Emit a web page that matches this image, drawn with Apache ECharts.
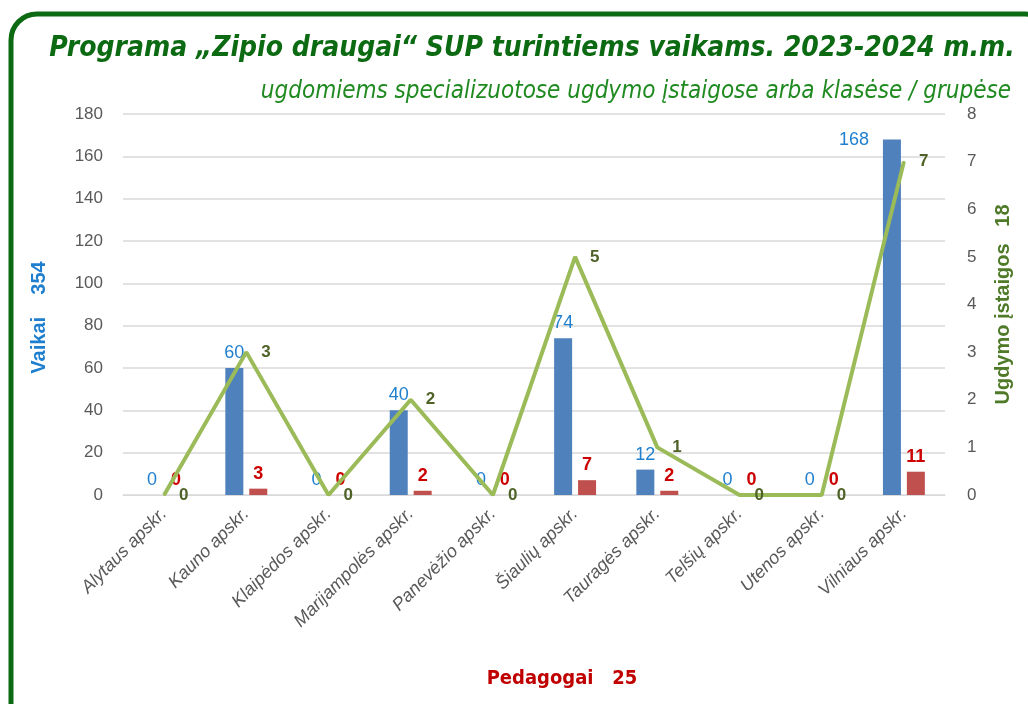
<!DOCTYPE html>
<html>
<head>
<meta charset="utf-8">
<script src="https://cdn.jsdelivr.net/npm/echarts@6/dist/echarts.min.js"></script>
<style>
  html, body { margin: 0; padding: 0; background: #fff; }
  #chart { width: 1028px; height: 704px; }
</style>
</head>
<body>
<div id="chart"></div>
<script>
const chartDom = document.getElementById('chart');
const myChart = echarts.init(chartDom);

// categories and values
const regions = ['Alytaus apskr.', 'Kauno apskr.', 'Klaipėdos apskr.', 'Marijampolės apskr.', 'Panevėžio apskr.',
  'Šiaulių apskr.', 'Tauragės apskr.', 'Telšių apskr.', 'Utenos apskr.', 'Vilniaus apskr.'];
const vaikai = [0, 60, 0, 40, 0, 74, 12, 0, 0, 168];
const pedagogai = [0, 3, 0, 2, 0, 7, 2, 0, 0, 11];
const istaigos = [0, 3, 0, 2, 0, 5, 1, 0, 0, 7];
const totals = { vaikai: 354, pedagogai: 25, istaigos: 18 };

const narrow = '"Liberation Sans Narrow", "DejaVu Sans Condensed", "Roboto Condensed", sans-serif';
const base = '"Liberation Sans", Arial, sans-serif';

// the tallest blue bar has its label at its top-left, as in the original
const vaikaiData = vaikai.map(v => v === Math.max(...vaikai)
    ? { value: v, label: { position: [-14, -8], align: 'right', verticalAlign: 'top' } }
    : v);

const option = {
    backgroundColor: '#fff',
    graphic: [
        {
            type: 'rect',
            shape: { x: 11, y: 14, width: 1040, height: 720, r: 26 },
            style: { fill: 'none', stroke: '#0b6a12', lineWidth: 5 },
            z: 100
        }
    ],
    title: [
        {
            text: 'Programa „Zipio draugai“ SUP turintiems vaikams. 2023-2024 m.m.',
            left: 527, top: 30, textAlign: 'center',
            textStyle: { fontFamily: narrow, fontSize: 28, fontWeight: 'bold', fontStyle: 'italic', color: '#0b6a12' }
        },
        {
            text: 'ugdomiems specializuotose ugdymo įstaigose arba klasėse / grupėse',
            right: 12, top: 75,
            textStyle: { fontFamily: narrow, fontSize: 24, fontWeight: 'normal', fontStyle: 'italic', color: '#1f8a1f' }
        },
        {
            text: 'Pedagogai   ' + totals.pedagogai,
            left: 557, top: 664, textAlign: 'center',
            textStyle: { fontFamily: narrow, fontSize: 20, fontWeight: 'bold', color: '#c00000' }
        }
    ],
    grid: { left: 123, right: 83, top: 114, bottom: 209 },
    xAxis: {
        type: 'category',
        data: regions,
        axisTick: { show: false },
        axisLine: { lineStyle: { color: '#d9d9d9' } },
        axisLabel: {
            rotate: 45, interval: 0, margin: 16,
            fontFamily: base, fontSize: 18, fontStyle: 'italic', color: '#595959'
        }
    },
    yAxis: [
        {
            type: 'value', min: 0, max: 180, interval: 20,
            name: 'Vaikai    ' + totals.vaikai,
            nameLocation: 'middle', nameGap: 74, nameRotate: 90,
            nameTextStyle: { fontFamily: base, fontSize: 20, fontWeight: 'bold', color: '#1f7fcf', padding: [0, 26, 0, 0] },
            axisLabel: { fontFamily: base, fontSize: 17, color: '#595959', margin: 20 },
            splitLine: { lineStyle: { color: '#d9d9d9', width: 1.5 } }
        },
        {
            type: 'value', min: 0, max: 8, interval: 1,
            name: 'Ugdymo įstaigos   ' + totals.istaigos,
            nameLocation: 'middle', nameGap: 48, nameRotate: 90,
            nameTextStyle: { fontFamily: base, fontSize: 20, fontWeight: 'bold', color: '#4f7a28' },
            axisLabel: { fontFamily: base, fontSize: 17, color: '#595959', margin: 22 },
            splitLine: { show: false }
        }
    ],
    series: [
        {
            name: 'Vaikai', type: 'bar', yAxisIndex: 0,
            data: vaikaiData, barWidth: 18, barGap: '33%',
            itemStyle: { color: '#4f81bd' },
            label: { show: true, position: 'top', distance: 6, fontFamily: base, fontSize: 18, color: '#1f7fcf' }
        },
        {
            name: 'Pedagogai', type: 'bar', yAxisIndex: 0,
            data: pedagogai, barWidth: 18,
            itemStyle: { color: '#c0504d' },
            label: { show: true, position: 'top', distance: 6, fontFamily: base, fontSize: 18, fontWeight: 'bold', color: '#cc0000' }
        },
        {
            name: 'Ugdymo įstaigos', type: 'line', yAxisIndex: 1,
            data: istaigos, symbol: 'circle', symbolSize: 2, showSymbol: true,
            itemStyle: { color: '#9bbb59' },
            lineStyle: { color: '#9bbb59', width: 4 },
            label: { show: true, position: 'right', distance: 14, fontFamily: base, fontSize: 17, fontWeight: 'bold', color: '#4f6228' },
            z: 5
        }
    ]
};

myChart.setOption(option);
</script>
</body>
</html>
